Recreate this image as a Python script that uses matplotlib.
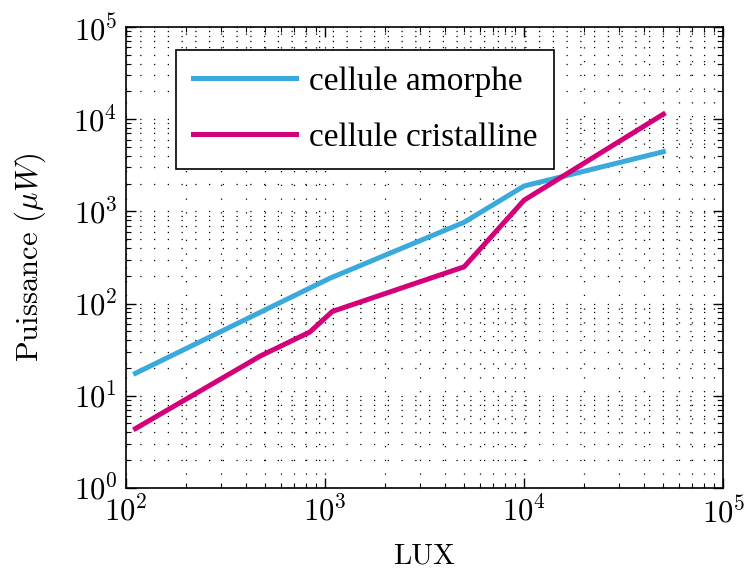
import matplotlib.pyplot as plt

plt.rcParams['font.family'] = 'serif'
plt.rcParams['font.serif'] = ['cmr10', 'DejaVu Serif']
plt.rcParams['mathtext.fontset'] = 'cm'
plt.rcParams['axes.formatter.use_mathtext'] = True

lux_amorphe = [112, 1060, 5000, 10000, 50000]
p_amorphe = [17.5, 188, 760, 1880, 4430]

lux_cristal = [112, 475, 840, 1090, 5000, 10000, 50000]
p_cristal = [4.4, 27, 49, 82, 250, 1320, 11300]

blue = '#3aa9dc'
magenta = '#d4007a'

fig = plt.figure(figsize=(7.48, 5.72), dpi=100)
ax = fig.add_axes([0.168, 0.147, 0.799, 0.806])

ax.plot(lux_amorphe, p_amorphe, color=blue, linewidth=3.6, label='cellule amorphe')
ax.plot(lux_cristal, p_cristal, color=magenta, linewidth=3.6, label='cellule cristalline')

ax.set_xscale('log')
ax.set_yscale('log')
ax.set_xlim(1e2, 1e5)
ax.set_ylim(1e0, 1e5)

ax.grid(True, which='both', color='black', linestyle=(0, (1, 10)), linewidth=0.9)
ax.tick_params(which='both', direction='in', top=True, right=True, labelsize=22)
ax.tick_params(which='major', length=7, width=1, pad=6)
ax.tick_params(which='minor', length=3.5, width=0.8)
for s in ax.spines.values():
    s.set_linewidth(1.2)

ax.set_xlabel('LUX', fontsize=21, labelpad=10)
ax.set_ylabel(r'Puissance ($\mu W$)', fontsize=22, labelpad=18)

leg = ax.legend(loc='upper left', bbox_to_anchor=(0.084, 0.95), borderaxespad=0,
                fancybox=False, edgecolor='black', framealpha=1,
                handlelength=3.1, handletextpad=0.4,
                prop={'family': 'Liberation Serif', 'size': 24}, borderpad=0.5,
                labelspacing=0.75)
leg.get_frame().set_linewidth(1.2)

plt.savefig('out.png', dpi=100)
